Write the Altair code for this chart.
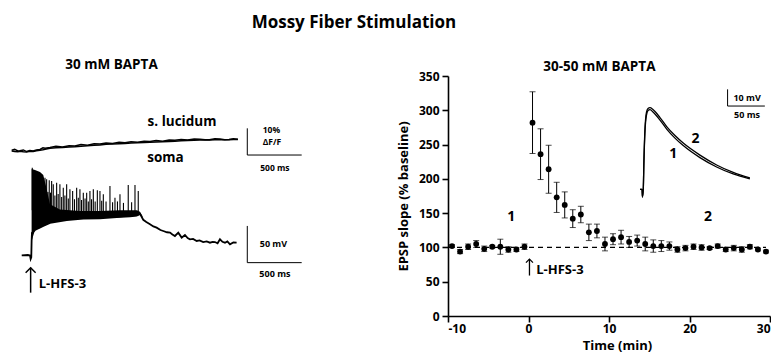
import altair as alt
import pandas as pd

FONT = "Open Sans"

# ---------------- Right panel: EPSP slope time course ----------------
time_min = [-9.5, -8.5, -7.5, -6.5, -5.5, -4.5, -3.5, -2.5, -1.5, -0.5,
            0.5, 1.5, 2.5, 3.5, 4.5, 5.5, 6.5, 7.5, 8.5, 9.5,
            10.5, 11.5, 12.5, 13.5, 14.5, 15.5, 16.5, 17.5, 18.5, 19.5,
            20.5, 21.5, 22.5, 23.5, 24.5, 25.5, 26.5, 27.5, 28.5, 29.5]
slope_pct = [102, 94, 101, 105, 98, 101, 101, 97, 97, 101,
             282, 236, 214, 173, 162, 142, 148, 122, 124, 105,
             112, 115, 108, 110, 105, 102, 102, 102, 97, 99,
             101, 100, 99, 102, 97, 99, 97, 101, 97, 94]
slope_sem = [2, 3, 4, 5, 4, 2, 11, 4, 3, 4,
             45, 37, 35, 22, 19, 13, 12, 12, 10, 10,
             8, 10, 8, 8, 10, 9, 8, 6, 4, 4,
             4, 4, 2, 3, 3, 4, 4, 3, 2, 2]
x_ticks = [-10, 0, 10, 20, 30]
y_ticks = [0, 50, 100, 150, 200, 250, 300, 350]

# inset: EPSP traces 1 (before) and 2 (after), ms / mV
epsp_ms = [-4.4, -1.7, -1.1, 0, 0.9, 2.3, 4.3, 6.3, 9.0, 13, 22.4, 31.4, 42.5, 53.6, 76, 98.4, 120.6, 143]
epsp_1 = [0, 0, -4.6, 0.2, 17, 34.9, 44.5, 47.2, 47.8, 46.3, 41.5, 36.1, 30.7, 26.2, 19, 13.4, 9.2, 6.3]
epsp_2 = [0, 0, -4.6, 0.2, 18.1, 36.7, 46.3, 48.4, 48.9, 47.8, 43, 37.6, 32.2, 27.7, 20.5, 14.6, 10.1, 6.8]

# ---------------- Left panel: traces ----------------
fluo_ms = [-177, -150, -120, -101, -70, -40, -10, 21, 50, 83, 110, 130, 175, 230, 290, 350, 404, 460, 520, 580,
           634, 690, 750, 810, 864, 920, 980, 1040, 1094, 1150, 1210, 1270, 1323, 1380, 1440, 1500, 1553, 1600,
           1640, 1690, 1737, 1780, 1820, 1860, 1902]
fluo_lucidum = [0.3, 0.6, 0.0, 0.1, 0.4, -0.2, 0.2, 0.0, 0.4, 0.6, 1.2, 1.0, 1.3, 1.8, 1.5, 2.0, 1.9, 2.4, 2.2, 2.7,
                2.6, 3.0, 2.8, 3.3, 3.1, 3.5, 3.3, 3.7, 3.6, 3.9, 3.7, 4.1, 4.0, 4.3, 4.1, 4.5, 4.4, 4.2,
                4.2, 4.6, 4.5, 4.2, 4.3, 4.6, 4.4]
fluo_soma = [0.0, -0.2, -0.3, -0.1, -0.3, -0.4, -0.1, -0.2, 0.1, 0.3, 0.5, 0.7, 1.0, 1.2, 1.3, 1.5, 1.6, 1.8, 2.0, 2.2,
             2.3, 2.5, 2.6, 2.7, 2.8, 3.0, 3.1, 3.2, 3.3, 3.4, 3.5, 3.6, 3.7, 3.8, 3.9, 4.0, 4.1, 4.1,
             4.1, 4.2, 4.2, 4.2, 4.2, 4.3, 4.3]

vm_ms = [-85, -28, -9, -3, 3, 6, 9, 37, 113, 175, 328, 481, 634, 788, 910, 971, 1002, 1032, 1060, 1094, 1125, 1155,
         1190, 1216, 1250, 1278, 1300, 1323, 1354, 1385, 1415, 1440, 1461, 1490, 1523, 1550, 1583, 1615, 1645,
         1670, 1691, 1715, 1737, 1760, 1783, 1805, 1829, 1860, 1890]
vm_mv = [-1.4, -1.0, -1.6, -6.4, -4.0, 18, 29, 33, 38.6, 42.7, 46.5, 48.5, 49, 50.5, 51.5, 52.5, 55, 47, 44, 41, 38, 36.3,
         33, 31.7, 30, 29.5, 27, 24.9, 29.5, 22.7, 26.3, 22, 20.4, 21, 18.1, 19, 16.7, 17.5, 15.8,
         17, 16.7, 15, 20.4, 17, 15.8, 17.5, 13.6, 16, 15.8]

band_ms = [6, 37, 83, 113, 138, 175, 266, 450, 634, 818, 974, 1002, 1025]
band_hi = [116.2, 114.9, 112.1, 108, 93.1, 68, 61, 59, 59, 60, 60, 58, 52]
band_lo = [18, 33.1, 35.8, 38.6, 39.9, 42.6, 45.4, 48.5, 49, 50.5, 52, 54, 50]

spike_ms = [12, 129, 144, 156, 168, 180, 190, 205, 220, 236, 250, 266, 282, 297, 312, 328, 343, 358, 383, 400,
            420, 435, 450, 465, 481, 497, 512, 527, 542, 557, 573, 590, 610, 634, 650, 665, 690, 726, 750, 772,
            795, 818, 850, 894, 925, 956, 986]
spike_peak = [118, 104.4, 102.2, 85, 100.8, 84, 99.9, 95.4, 80, 97.5, 82, 95.4, 78, 90.7, 80, 95.4, 76, 88.6, 86.2, 75,
              90.7, 77, 88.6, 74, 83.9, 76, 83.9, 72, 86.2, 75, 88.6, 72, 87.2, 86.2, 73, 81.7, 72, 93.1, 71, 77.1,
              72, 81.7, 70, 94.4, 71, 94.4, 86.2]
spike_foot = [60] + [58] * 46

# ---------------- scales ----------------
L_W, L_H = 300, 240
R_W, R_H = 322, 240
LX_DOMAIN = [-211, 2546]
FL_DOMAIN = [-61.8, 28.1]
V_DOMAIN = [-84.1, 242.9]
INX_DOMAIN = [-262, 170]
INY_DOMAIN = [-75.9, 67.9]


def lx(f):
    return alt.X(f, type="quantitative", scale=alt.Scale(domain=LX_DOMAIN, nice=False, zero=False), axis=None)


def fy(f):
    return alt.Y(f, type="quantitative", scale=alt.Scale(domain=FL_DOMAIN, nice=False, zero=False), axis=None)


def vy(f):
    return alt.Y(f, type="quantitative", scale=alt.Scale(domain=V_DOMAIN, nice=False, zero=False), axis=None)


def ix(f):
    return alt.X(f, type="quantitative", scale=alt.Scale(domain=INX_DOMAIN, nice=False, zero=False), axis=None)


def iy(f):
    return alt.Y(f, type="quantitative", scale=alt.Scale(domain=INY_DOMAIN, nice=False, zero=False), axis=None)


AX_COMMON = dict(grid=False, domainColor="black", tickColor="black", labelColor="black", titleColor="black",
                 domainWidth=1.6, tickWidth=1.6, tickSize=6, labelFont=FONT, labelFontWeight="bold",
                 labelFontSize=12, titleFont=FONT, titleFontWeight="bold", titleFontSize=13)


def rx(f):
    return alt.X(f, type="quantitative", scale=alt.Scale(domain=[-10, 30], nice=False, zero=False),
                 axis=alt.Axis(values=x_ticks, title="Time (min)", labelExpr="'' + datum.value",
                               labelPadding=1, titlePadding=5, titleX=R_W / 2 + 8, **AX_COMMON))


def ry(f):
    return alt.Y(f, type="quantitative", scale=alt.Scale(domain=[0, 350], nice=False, zero=False),
                 axis=alt.Axis(values=y_ticks, title="EPSP slope (% baseline)", labelPadding=3,
                               titlePadding=8, **AX_COMMON))


def txt(size, align="center"):
    return dict(font=FONT, fontWeight="bold", fontSize=size, align=align, baseline="middle", color="black")


# ---------------- left panel ----------------
fluo_df = pd.DataFrame({"t": fluo_ms * 2,
                        "f": fluo_lucidum + fluo_soma,
                        "trace": ["s. lucidum"] * len(fluo_ms) + ["soma"] * len(fluo_ms)})
fluo_lines = alt.Chart(fluo_df).mark_line(color="black", strokeWidth=1.5).encode(
    x=lx("t"), y=fy("f"), detail="trace:N")

fl_bar = pd.DataFrame({"x": [1988, 1988], "x2": [1988, 2488], "y": [8.5, -1.5], "y2": [-1.5, -1.5]})
fl_bar_ch = alt.Chart(fl_bar).mark_rule(color="black", strokeWidth=1).encode(
    x=lx("x"), x2="x2", y=fy("y"), y2="y2")

fl_big = pd.DataFrame({"x": [1388, 1236], "y": [10.9, -2.5], "s": ["s. lucidum", "soma"]})
fl_text_big = alt.Chart(fl_big).mark_text(**txt(13.5)).encode(x=lx("x"), y=fy("y"), text="s")
fl_small = pd.DataFrame({"x": [2210, 2215, 2242], "y": [7.9, 3.3, -6.5], "s": ["10%", "\u0394F/F", "500 ms"]})
fl_text_small = alt.Chart(fl_small).mark_text(**txt(8.5)).encode(x=lx("x"), y=fy("y"), text="s")

titles_df = pd.DataFrame({"x": [740], "y": [32.2], "s": ["30 mM BAPTA"]})
sub_l = alt.Chart(titles_df).mark_text(**txt(13.5)).encode(x=lx("x"), y=fy("y"), text="s")
main_df = pd.DataFrame({"x": [2968], "y": [47.9], "s": ["Mossy Fiber Stimulation"]})
main_t = alt.Chart(main_df).mark_text(**txt(17)).encode(x=lx("x"), y=fy("y"), text="s")

fluo_group = alt.layer(fluo_lines, fl_bar_ch, fl_text_big, fl_text_small, sub_l, main_t)

band_df = pd.DataFrame({"t": band_ms, "hi": band_hi, "lo": band_lo})
band_ch = alt.Chart(band_df).mark_area(color="black", opacity=1).encode(x=lx("t"), y=vy("hi"), y2="lo")
vm_df = pd.DataFrame({"t": vm_ms, "v": vm_mv})
vm_ch = alt.Chart(vm_df).mark_line(color="black", strokeWidth=1.8).encode(x=lx("t"), y=vy("v"))
sp_df = pd.DataFrame({"t": spike_ms, "p": spike_peak, "f": spike_foot})
sp_ch = alt.Chart(sp_df).mark_rule(color="black", strokeWidth=1.1).encode(x=lx("t"), y=vy("p"), y2="f")

v_bar = pd.DataFrame({"x": [1988, 1988], "x2": [1988, 2488], "y": [38.6, -11.4], "y2": [-11.4, -11.4]})
v_bar_ch = alt.Chart(v_bar).mark_rule(color="black", strokeWidth=1).encode(x=lx("x"), x2="x2", y=vy("y"), y2="y2")
v_text = pd.DataFrame({"x": [2228, 2242], "y": [13.6, -27.2], "s": ["50 mV", "500 ms"]})
v_text_ch = alt.Chart(v_text).mark_text(**txt(9)).encode(x=lx("x"), y=vy("y"), text="s")

arrow_l = pd.DataFrame({"x": [-3], "y": [-18.3], "y2": [-52.3]})
arrow_l_stem = alt.Chart(arrow_l).mark_rule(color="black", strokeWidth=1.5).encode(x=lx("x"), y=vy("y"), y2="y2")
arrow_l_head = alt.Chart(arrow_l).mark_point(shape="M-1,1L0,0L1,1", size=100, filled=False, color="black",
                                             strokeWidth=1.5, opacity=1).encode(x=lx("x"), y=vy("y"))
lhfs_l = pd.DataFrame({"x": [71], "y": [-40], "s": ["L-HFS-3"]})
lhfs_l_ch = alt.Chart(lhfs_l).mark_text(**txt(13, "left")).encode(x=lx("x"), y=vy("y"), text="s")

volt_group = alt.layer(band_ch, vm_ch, sp_ch, v_bar_ch, v_text_ch, arrow_l_stem, arrow_l_head, lhfs_l_ch)

left = alt.layer(fluo_group, volt_group).resolve_scale(y="independent").properties(width=L_W, height=L_H)

# ---------------- right panel ----------------
df = pd.DataFrame({"t": time_min, "m": slope_pct, "e": slope_sem})
df["lo"] = df["m"] - df["e"]
df["hi"] = df["m"] + df["e"]

dash_df = pd.DataFrame({"x": [-10], "x2": [29.5], "y": [100]})
dash = alt.Chart(dash_df).mark_rule(color="black", strokeWidth=1.2, strokeDash=[5, 4]).encode(
    x=rx("x"), x2="x2", y=ry("y"))
err = alt.Chart(df).mark_rule(color="black", strokeWidth=1).encode(x=rx("t"), y=ry("lo"), y2="hi")
cap_hi = alt.Chart(df).mark_tick(color="black", orient="horizontal", size=6, thickness=1).encode(x=rx("t"), y=ry("hi"))
cap_lo = alt.Chart(df).mark_tick(color="black", orient="horizontal", size=6, thickness=1).encode(x=rx("t"), y=ry("lo"))
pts = alt.Chart(df).mark_circle(color="black", size=34, opacity=1).encode(x=rx("t"), y=ry("m"))

r_text = pd.DataFrame({"x": [-2.15, 22.3], "y": [143.7, 143.7], "s": ["1", "2"]})
r_text_ch = alt.Chart(r_text).mark_text(**txt(14)).encode(x=rx("x"), y=ry("y"), text="s")
sub_r_df = pd.DataFrame({"x": [8.8], "y": [363.8], "s": ["30-50 mM BAPTA"]})
sub_r = alt.Chart(sub_r_df).mark_text(**txt(13.5)).encode(x=rx("x"), y=ry("y"), text="s")

arrow_r = pd.DataFrame({"x": [0.12], "y": [83], "y2": [59]})
arrow_r_stem = alt.Chart(arrow_r).mark_rule(color="black", strokeWidth=1.3).encode(x=rx("x"), y=ry("y"), y2="y2")
arrow_r_head = alt.Chart(arrow_r).mark_point(shape="M-1,1L0,0L1,1", size=49, filled=False, color="black",
                                             strokeWidth=1.3, opacity=1).encode(x=rx("x"), y=ry("y"))
lhfs_r = pd.DataFrame({"x": [0.96], "y": [66.5], "s": ["L-HFS-3"]})
lhfs_r_ch = alt.Chart(lhfs_r).mark_text(**txt(13, "left")).encode(x=rx("x"), y=ry("y"), text="s")

main_group = alt.layer(dash, err, cap_hi, cap_lo, pts, r_text_ch, sub_r, arrow_r_stem, arrow_r_head, lhfs_r_ch)

ep_df = pd.DataFrame({"t": epsp_ms * 2, "v": epsp_1 + epsp_2, "trace": ["1"] * len(epsp_ms) + ["2"] * len(epsp_ms)})
ep_ch = alt.Chart(ep_df).mark_line(color="black", strokeWidth=1.3, interpolate="monotone").encode(
    x=ix("t"), y=iy("v"), detail="trace:N")
in_bar = pd.DataFrame({"x": [113.1, 113.1], "x2": [113.1, 163.1], "y": [59.9, 49.9], "y2": [49.9, 49.9]})
in_bar_ch = alt.Chart(in_bar).mark_rule(color="black", strokeWidth=1).encode(x=ix("x"), x2="x2", y=iy("y"), y2="y2")
in_text = pd.DataFrame({"x": [139.3, 139.2], "y": [54.9, 44.3], "s": ["10 mV", "50 ms"]})
in_text_ch = alt.Chart(in_text).mark_text(**txt(9)).encode(x=ix("x"), y=iy("y"), text="s")
in_lab = pd.DataFrame({"x": [40.2, 70.2], "y": [21, 30.3], "s": ["1", "2"]})
in_lab_ch = alt.Chart(in_lab).mark_text(**txt(14)).encode(x=ix("x"), y=iy("y"), text="s")

inset_group = alt.layer(ep_ch, in_bar_ch, in_text_ch, in_lab_ch)

right = alt.layer(main_group, inset_group).resolve_scale(x="independent", y="independent").properties(
    width=R_W, height=R_H)

chart = alt.hconcat(left, right, spacing=140, bounds="flush").properties(
    padding={"left": 0, "top": 6, "right": 0, "bottom": 0}
).configure_view(stroke=None)

chart.save("out.html", embed_options={"renderer": "svg", "actions": False})
